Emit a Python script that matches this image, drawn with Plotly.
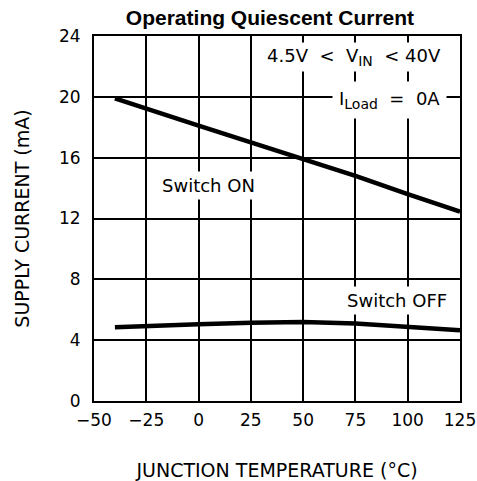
import plotly.graph_objects as go

temp_c = [-40, -25, 0, 25, 50, 75, 100, 125]
on_ma = [19.9, 19.2, 18.1, 17.0, 15.9, 14.8, 13.6, 12.45]
off_ma = [4.85, 4.95, 5.05, 5.15, 5.2, 5.1, 4.85, 4.65]
x_ticks = [-50, -25, 0, 25, 50, 75, 100, 125]
y_ticks = [0, 4, 8, 12, 16, 20, 24]

FONT = "DejaVu Sans"
NB = "\u00a0"


def sub(s):
    return '<sub><span style="font-size:14px">' + s + '</span></sub>'


fig = go.Figure()
fig.add_trace(go.Scatter(x=temp_c, y=on_ma, mode="lines",
                         line=dict(color="black", width=4.5), name="Switch ON"))
fig.add_trace(go.Scatter(x=temp_c, y=off_ma, mode="lines",
                         line=dict(color="black", width=4.5), name="Switch OFF"))

ann_font = dict(family=FONT, size=18, color="black")
fig.add_annotation(x=74.1, y=22.62,
                   text="4.5V" + NB * 2 + "&lt;" + NB * 2 + "V" + sub("IN") + NB * 2 + "&lt;" + NB + "40V",
                   showarrow=False, font=ann_font, bgcolor="white", borderpad=2)
fig.add_annotation(x=91.3, y=19.8,
                   text="I" + sub("Load") + NB * 2 + "=" + NB * 2 + "0A",
                   showarrow=False, font=ann_font, bgcolor="white", borderpad=6)
fig.add_annotation(x=4.75, y=14.17, text="Switch ON", showarrow=False,
                   font=ann_font, bgcolor="white", borderpad=3)
fig.add_annotation(x=95.1, y=6.61, text="Switch OFF", showarrow=False,
                   font=ann_font, bgcolor="white", borderpad=3)

fig.update_layout(
    width=477, height=481,
    margin=dict(l=94, r=17, t=36, b=80),
    paper_bgcolor="white", plot_bgcolor="white",
    showlegend=False,
    title=dict(text="<b>Operating Quiescent Current</b>", x=0.566, xanchor="center",
               y=0.9626, yanchor="middle",
               font=dict(family="Liberation Sans", size=21, color="black")),
    font=dict(family=FONT, size=17, color="black"),
)
fig.update_xaxes(range=[-50, 125], tickvals=x_ticks,
                 ticktext=[str(v).replace("-", "\u2212") for v in x_ticks],
                 showgrid=True, gridcolor="black", gridwidth=1.6, automargin=False,
                 showline=True, linecolor="black", linewidth=2, mirror=True,
                 zeroline=False, ticks="", ticklabelstandoff=3,
                 title=dict(text="JUNCTION TEMPERATURE (°C)", standoff=34,
                            font=dict(family=FONT, size=19)))
fig.update_yaxes(range=[0, 24], tickvals=y_ticks,
                 showgrid=True, gridcolor="black", gridwidth=1.6, automargin=False,
                 showline=True, linecolor="black", linewidth=2, mirror=True,
                 zeroline=False, ticks="", ticklabelstandoff=8,
                 title=dict(text="SUPPLY CURRENT (mA)", standoff=24,
                            font=dict(family=FONT, size=19)))

fig.write_html("out.html",
               config={"displayModeBar": False},
               post_script="document.body.style.margin='0px';document.body.style.overflow='hidden';")
